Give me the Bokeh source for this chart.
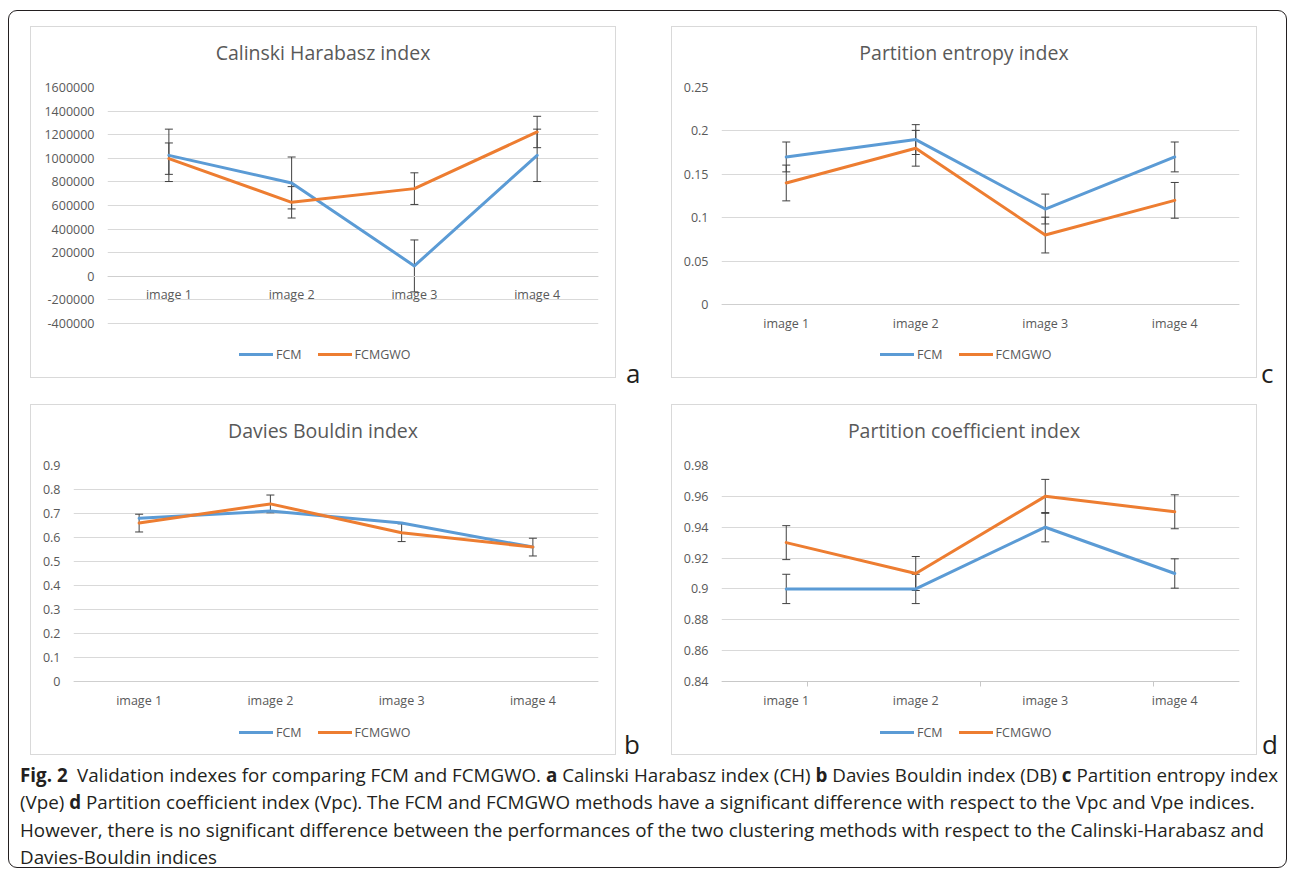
from jinja2 import Template
from bokeh.plotting import figure
from bokeh.models import (ColumnDataSource, Range1d, FactorRange, FixedTicker,
                          CustomJSTickFormatter, Whisker, TeeHead, Legend, LegendItem,
                          CategoricalAxis)
from bokeh.embed import file_html
from bokeh.resources import INLINE

# ---------------- data ----------------
categories = ["image 1", "image 2", "image 3", "image 4"]
series_names = ["FCM", "FCMGWO"]

# a: Calinski Harabasz index
ch_fcm = [1025000, 791000, 88000, 1025000]
ch_fcmgwo = [997000, 627000, 743000, 1223000]
ch_fcm_err = [222000, 220000, 220000, 222000]
ch_fcmgwo_err = [133000, 133000, 134000, 133000]
ch_ticks = [-400000, -200000, 0, 200000, 400000, 600000, 800000,
            1000000, 1200000, 1400000, 1600000]

# b: Davies Bouldin index
db_fcm = [0.68, 0.71, 0.66, 0.56]
db_fcmgwo = [0.66, 0.74, 0.62, 0.56]
db_fcm_err = None
db_fcmgwo_err = [0.037, 0.037, 0.037, 0.037]
db_ticks = [0, 0.1, 0.2, 0.3, 0.4, 0.5, 0.6, 0.7, 0.8, 0.9]

# c: Partition entropy index
pe_fcm = [0.17, 0.19, 0.11, 0.17]
pe_fcmgwo = [0.14, 0.18, 0.08, 0.12]
pe_fcm_err = [0.0172, 0.0172, 0.0172, 0.0172]
pe_fcmgwo_err = [0.0206, 0.0206, 0.0206, 0.0206]
pe_ticks = [0, 0.05, 0.1, 0.15, 0.2, 0.25]

# d: Partition coefficient index
pc_fcm = [0.90, 0.90, 0.94, 0.91]
pc_fcmgwo = [0.93, 0.91, 0.96, 0.95]
pc_fcm_err = [0.0095, 0.0095, 0.0095, 0.0095]
pc_fcmgwo_err = [0.011, 0.011, 0.011, 0.011]
pc_ticks = [0.84, 0.86, 0.88, 0.9, 0.92, 0.94, 0.96, 0.98]

titles = ["Calinski Harabasz index", "Davies Bouldin index",
          "Partition entropy index", "Partition coefficient index"]
panel_letters = ["a", "b", "c", "d"]
caption_lines = [
    "<b>Fig. 2</b>&ensp;Validation indexes for comparing FCM and FCMGWO. <b>a</b> Calinski Harabasz index (CH) <b>b</b> Davies Bouldin index (DB) <b>c</b> Partition entropy index",
    "(Vpe) <b>d</b> Partition coefficient index (Vpc). The FCM and FCMGWO methods have a significant difference with respect to the Vpc and Vpe indices.",
    "However, there is no significant difference between the performances of the two clustering methods with respect to the Calinski-Harabasz and",
    "Davies-Bouldin indices",
]

# ---------------- styling ----------------
BLUE = "#5B9BD5"
ORANGE = "#ED7D31"
TXT = "#595959"
GRID = "#d9d9d9"
FONT = "Open Sans"
MB_TOP = 60          # px from figure top to the highest gridline
MB_BOTTOM = 1        # frame reaches (almost) the panel bottom
LEGEND_CY = 327      # legend centre, px from figure top
LEGEND_H = 17


def make_fig(name, ticks, fcm, gwo, fcm_err, gwo_err, w, h, mb_left, grid_bottom_gap,
             legend_x, axis_at=None, boundary=False):
    # the plotted grid spans from MB_TOP to (h - grid_bottom_gap); the frame is
    # extended below it (no gridlines there) to hold the axis labels and legend
    grid_px = h - grid_bottom_gap - MB_TOP
    frame_px = h - MB_BOTTOM - MB_TOP
    span = ticks[-1] - ticks[0]
    y_low = ticks[0] - (frame_px - grid_px) / grid_px * span

    p = figure(name=name, width=w, height=h, x_range=FactorRange(*categories),
               y_range=Range1d(y_low, ticks[-1]), title=None,
               output_backend="svg", toolbar_location=None,
               min_border_left=mb_left, min_border_right=17,
               min_border_top=MB_TOP, min_border_bottom=MB_BOTTOM,
               background_fill_color="white", border_fill_color="white",
               outline_line_color=None)

    yax = p.yaxis[0]
    yax.ticker = FixedTicker(ticks=ticks)
    yax.formatter = CustomJSTickFormatter(code="return String(tick)")
    yax.axis_line_color = None
    yax.major_tick_line_color = None
    yax.major_tick_out = 0
    yax.major_tick_in = 0
    yax.minor_tick_line_color = None
    yax.major_label_standoff = 13
    yax.major_label_text_font = FONT
    yax.major_label_text_font_size = "12.5px"
    yax.major_label_text_color = TXT

    xax = p.xaxis[0]
    xax.major_tick_line_color = None
    xax.major_tick_out = 0
    xax.major_tick_in = 0
    xax.axis_line_color = "#cfcfcf"
    xax.major_label_standoff = 10
    xax.major_label_text_font = FONT
    xax.major_label_text_font_size = "12.5px"
    xax.major_label_text_color = TXT
    xax.fixed_location = ticks[0] if axis_at is None else axis_at

    p.xgrid.visible = False
    p.ygrid.grid_line_color = GRID
    p.ygrid.grid_line_width = 1

    r1 = p.line(categories, fcm, line_color=BLUE, line_width=3,
                line_join="round", line_cap="round")
    r2 = p.line(categories, gwo, line_color=ORANGE, line_width=3,
                line_join="round", line_cap="round")

    for vals, errs in ((fcm, fcm_err), (gwo, gwo_err)):
        if errs is None:
            continue
        src = ColumnDataSource(dict(x=categories,
                                    upper=[v + e for v, e in zip(vals, errs)],
                                    lower=[v - e for v, e in zip(vals, errs)]))
        wk = Whisker(source=src, base="x", upper="upper", lower="lower",
                     line_color="#404040", line_width=1,
                     upper_head=TeeHead(size=8, line_color="#404040", line_width=1),
                     lower_head=TeeHead(size=8, line_color="#404040", line_width=1))
        p.add_layout(wk)

    legend_y = (h - MB_BOTTOM) - LEGEND_CY - LEGEND_H / 2
    legend = Legend(items=[LegendItem(label=series_names[0], renderers=[r1]),
                           LegendItem(label=series_names[1], renderers=[r2])],
                    orientation="horizontal", location=(legend_x, legend_y),
                    glyph_width=34, glyph_height=12, label_standoff=3, spacing=16,
                    padding=0, margin=0, border_line_color=None,
                    background_fill_alpha=0, label_text_font=FONT,
                    label_text_font_size="12.5px", label_text_color=TXT)
    p.add_layout(legend)

    if boundary:
        # tick marks on the category boundaries (Excel style)
        xax.axis_line_color = None
        bnd = [f"b{i}" for i in range(len(categories) + 1)]
        p.extra_x_ranges = {"bnd": FactorRange(*bnd, range_padding=-1,
                                               range_padding_units="absolute")}
        tax = CategoricalAxis(x_range_name="bnd", fixed_location=ticks[0],
                              major_tick_out=5, major_tick_in=0,
                              major_tick_line_color="#c8c8c8",
                              axis_line_color="#c8c8c8",
                              major_label_text_font_size="0px",
                              major_label_standoff=0)
        p.add_layout(tax, "below")
    return p


fa = make_fig("pa", ch_ticks, ch_fcm, ch_fcmgwo, ch_fcm_err, ch_fcmgwo_err,
              584, 350, 76, 54, 132, axis_at=0)
fc = make_fig("pc", pe_ticks, pe_fcm, pe_fcmgwo, pe_fcm_err, pe_fcmgwo_err,
              584, 350, 49, 73, 159)
fb = make_fig("pb", db_ticks, db_fcm, db_fcmgwo, db_fcm_err, db_fcmgwo_err,
              584, 349, 42, 73, 166)
fd = make_fig("pd", pc_ticks, pc_fcm, pc_fcmgwo, pc_fcm_err, pc_fcmgwo_err,
              584, 349, 49, 73, 159, boundary=True)

# ---------------- page (absolute placement of the four chart panels) ----------------
template = Template("""{% extends base %}
{% from macros import embed %}
{% block contents %}
<div style="position:absolute;left:8px;top:10px;width:1277px;height:856px;border:1px solid #231f20;border-radius:9px;"></div>
<div style="position:absolute;left:30px;top:26px;width:584px;height:350px;border:1px solid #d9d9d9;">{{ embed(roots.pa) }}</div>
<div style="position:absolute;left:671px;top:26px;width:584px;height:350px;border:1px solid #d9d9d9;">{{ embed(roots.pc) }}</div>
<div style="position:absolute;left:30px;top:404px;width:584px;height:349px;border:1px solid #d9d9d9;">{{ embed(roots.pb) }}</div>
<div style="position:absolute;left:671px;top:404px;width:584px;height:349px;border:1px solid #d9d9d9;">{{ embed(roots.pd) }}</div>
<div style="position:absolute;left:30px;top:40px;width:586px;text-align:center;font:19.5px/26px 'Open Sans';color:#595959;">{{ titles[0] }}</div>
<div style="position:absolute;left:671px;top:40px;width:586px;text-align:center;font:19.5px/26px 'Open Sans';color:#595959;">{{ titles[2] }}</div>
<div style="position:absolute;left:30px;top:418px;width:586px;text-align:center;font:19.5px/26px 'Open Sans';color:#595959;">{{ titles[1] }}</div>
<div style="position:absolute;left:671px;top:418px;width:586px;text-align:center;font:19.5px/26px 'Open Sans';color:#595959;">{{ titles[3] }}</div>
<div style="position:absolute;left:626px;top:360px;font:26px/26px 'Open Sans';color:#231f20;">{{ letters[0] }}</div>
<div style="position:absolute;left:1261px;top:360px;font:26px/26px 'Open Sans';color:#231f20;">{{ letters[2] }}</div>
<div style="position:absolute;left:624px;top:731px;font:26px/26px 'Open Sans';color:#231f20;">{{ letters[1] }}</div>
<div style="position:absolute;left:1262px;top:731px;font:26px/26px 'Open Sans';color:#231f20;">{{ letters[3] }}</div>
<div style="position:absolute;left:20px;top:762px;font-family:'Open Sans';font-size:18.8px;line-height:27.4px;color:#231f20;white-space:nowrap;">{{ caption }}</div>
{% endblock %}""")

html = file_html([fa, fb, fc, fd], INLINE, template=template,
                 template_variables={"letters": panel_letters, "titles": titles,
                                     "caption": "<br>".join(caption_lines)})
open("out.html", "w").write(html)
